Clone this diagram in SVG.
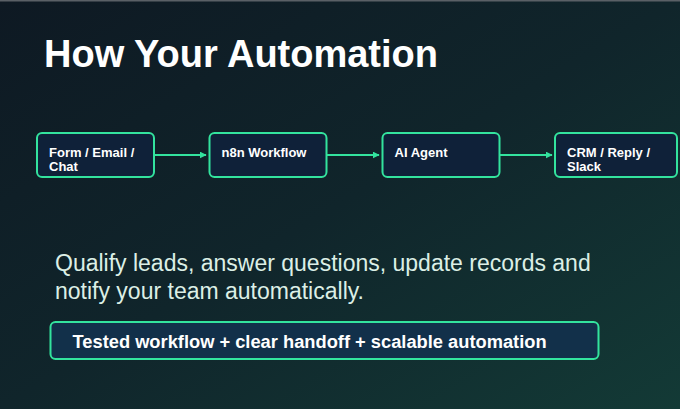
<svg xmlns="http://www.w3.org/2000/svg" width="680" height="409" viewBox="0 0 680 409">
<defs>
<linearGradient id="bg" x1="0" y1="0" x2="1" y2="1">
<stop offset="0" stop-color="#0e1923"/>
<stop offset="0.5" stop-color="#10252b"/>
<stop offset="1" stop-color="#133a36"/>
</linearGradient>
<marker id="ah" viewBox="0 0 10 10" refX="9" refY="5" markerWidth="3.5" markerHeight="3.5" orient="auto" markerUnits="strokeWidth">
<path d="M0,0 L10,5 L0,10 z" fill="#33e39e"/>
</marker>
<style>
.box{fill:#0f2139;stroke:#33e39e;stroke-width:2}
.lbl{font-family:"Liberation Sans",Arial,sans-serif;font-weight:bold;font-size:13px;fill:#ffffff}
.conn{stroke:#33e39e;stroke-width:2;fill:none;marker-end:url(#ah)}
</style>
</defs>
<rect width="680" height="409" fill="url(#bg)"/>
<rect width="680" height="1.5" fill="#5a6066"/>
<text x="44" y="66.5" font-family="'Liberation Sans',Arial,sans-serif" font-weight="bold" font-size="38.5" textLength="394" lengthAdjust="spacingAndGlyphs" fill="#ffffff">How Your Automation</text>
<g id="connectors">
<line class="conn" x1="154" y1="155" x2="206" y2="155"/>
<line class="conn" x1="327" y1="155" x2="379" y2="155"/>
<line class="conn" x1="500" y1="155" x2="552" y2="155"/>
</g>
<g id="node-input">
<rect class="box" x="37" y="133" width="117" height="44" rx="5"/>
<text class="lbl" x="49" y="157">Form / Email /</text>
<text class="lbl" x="49" y="171">Chat</text>
</g>
<g id="node-n8n">
<rect class="box" x="209.5" y="133" width="117" height="44" rx="5"/>
<text class="lbl" x="221.5" y="157">n8n Workflow</text>
</g>
<g id="node-ai">
<rect class="box" x="382.5" y="133" width="117" height="44" rx="5"/>
<text class="lbl" x="394.5" y="157">AI Agent</text>
</g>
<g id="node-output">
<rect class="box" x="555" y="133" width="122" height="44" rx="5"/>
<text class="lbl" x="567" y="157">CRM / Reply /</text>
<text class="lbl" x="567" y="171">Slack</text>
</g>
<g id="description" font-family="'Liberation Sans',Arial,sans-serif" font-size="23" fill="#dcefe6">
<text x="55" y="271">Qualify leads, answer questions, update records and</text>
<text x="55" y="299">notify your team automatically.</text>
</g>
<g id="summary">
<rect x="50.5" y="322" width="548" height="37" rx="5" fill="#12304a" stroke="#33e39e" stroke-width="2"/>
<text x="72.5" y="347.5" font-family="'Liberation Sans',Arial,sans-serif" font-weight="bold" font-size="18.3" fill="#ffffff">Tested workflow + clear handoff + scalable automation</text>
</g>
</svg>
